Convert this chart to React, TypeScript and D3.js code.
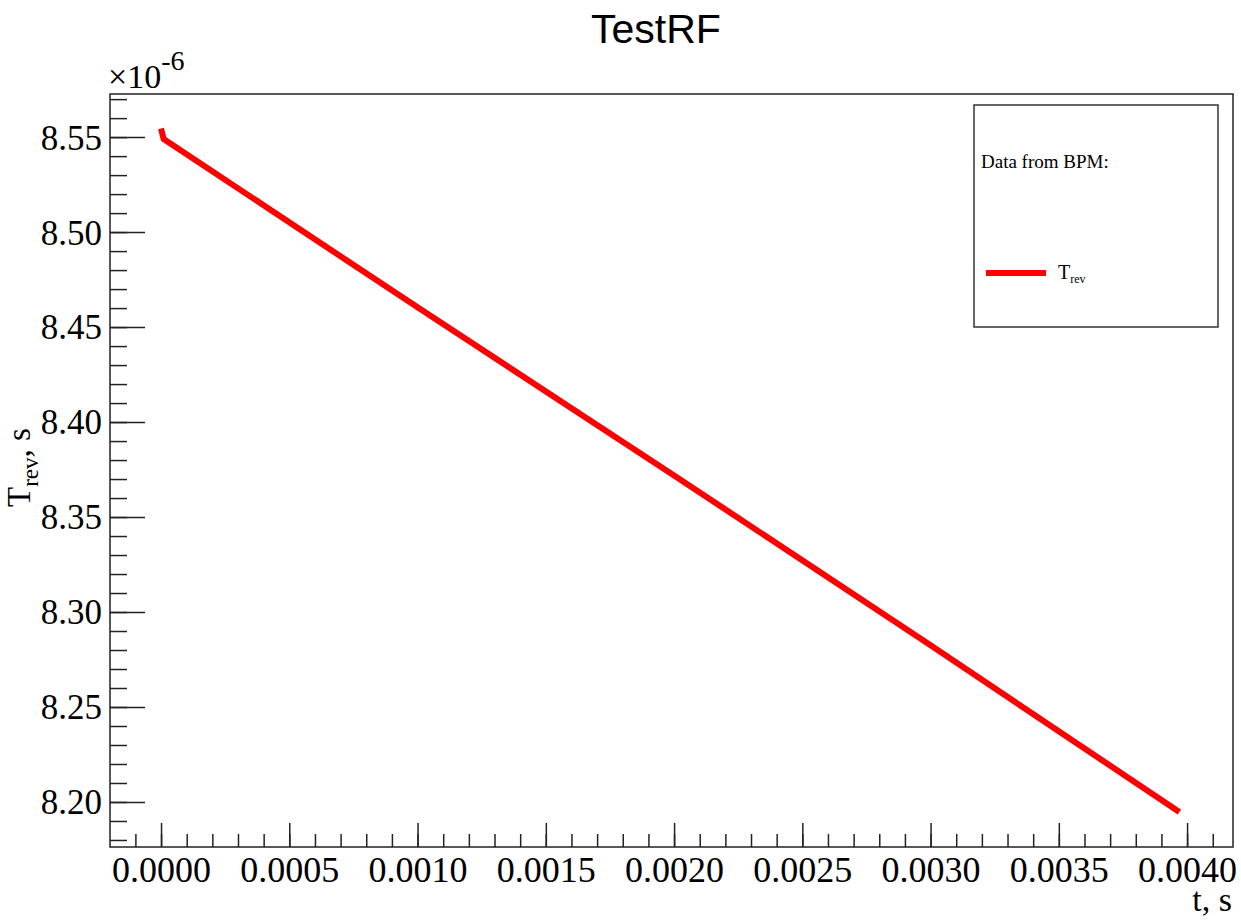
import * as d3 from 'd3';
import React, { useRef, useEffect } from 'react';

// revolution period from BPM
const timeS = [0, 0.00001, 0.001, 0.002, 0.003, 0.00397];
const trevE6 = [8.5545, 8.549, 8.4604, 8.3719, 8.2825, 8.1947];

const xTicks = [0, 0.0005, 0.001, 0.0015, 0.002, 0.0025, 0.003, 0.0035, 0.004];
const yTicks = [8.2, 8.25, 8.3, 8.35, 8.4, 8.45, 8.5, 8.55];

const W = 1241;
const H = 921;
const left = 110;
const right = 1233;
const top = 94;
const bottom = 847;

function App() {
  const svgRef = useRef<SVGSVGElement>(null);

  useEffect(() => {
    const svg = d3.select(svgRef.current);

    // 0.0000 sits at x=160, 0.0040 at x=1187
    const x = d3.scaleLinear().domain([-0.000199, 0.004179]).range([left, right]);
    const y = d3.scaleLinear().domain([8.1763, 8.5727]).range([bottom, top]);

    const xMinor = d3.range(-0.0001, 0.00415, 0.0001).filter((v) => x(v) > left + 1 && x(v) < right - 1);
    const yMinor = d3.range(8.17, 8.575, 0.01).filter((v) => y(v) < bottom - 1 && y(v) > top + 1);

    const serif = '"Liberation Serif", "Times New Roman", serif';

    svg
      .select<SVGGElement>('.x-minor')
      .attr('transform', `translate(0,${bottom})`)
      .call(d3.axisBottom(x).tickValues(xMinor).tickSize(-13).tickFormat(() => ''));
    svg
      .select<SVGGElement>('.x-major')
      .attr('transform', `translate(0,${bottom})`)
      .call(
        d3
          .axisBottom(x)
          .tickValues(xTicks)
          .tickSize(-24)
          .tickPadding(9)
          .tickFormat((d) => d3.format('.4f')(d as number))
      );

    svg
      .select<SVGGElement>('.y-minor')
      .attr('transform', `translate(${left},0)`)
      .call(d3.axisLeft(y).tickValues(yMinor).tickSize(-17).tickFormat(() => ''));
    svg
      .select<SVGGElement>('.y-major')
      .attr('transform', `translate(${left},0)`)
      .call(
        d3
          .axisLeft(y)
          .tickValues(yTicks)
          .tickSize(-35)
          .tickPadding(8)
          .tickFormat((d) => d3.format('.2f')(d as number))
      );

    svg.selectAll('.axis .domain').remove();
    svg
      .selectAll('.axis line')
      .attr('stroke', '#222')
      .attr('stroke-width', 1.5);
    svg
      .selectAll('.axis text')
      .attr('fill', '#000')
      .style('font-family', serif)
      .style('font-size', '35px');
    svg.selectAll('.x-major text').style('font-size', '36px');
    svg.selectAll('.y-major text').attr('dy', '0.34em');

    const line = d3
      .line<number>()
      .x((d, i) => x(timeS[i]))
      .y((d) => y(d));

    svg
      .select('.trace')
      .datum(trevE6)
      .attr('d', line)
      .attr('fill', 'none')
      .attr('stroke', '#ff0000')
      .attr('stroke-width', 6);
  }, []);

  const serif = '"Liberation Serif", "Times New Roman", serif';

  return (
    <svg
      ref={svgRef}
      width={W}
      height={H}
      style={{ position: 'absolute', left: 0, top: 0, background: '#fff' }}
    >
      <rect x={0} y={0} width={W} height={H} fill="#fff" />
      <text
        x={656}
        y={43}
        textAnchor="middle"
        fontFamily='"Liberation Sans", Arial, sans-serif'
        fontSize={41}
        fill="#000"
      >
        TestRF
      </text>

      <g className="axis x-minor" />
      <g className="axis x-major" />
      <g className="axis y-minor" />
      <g className="axis y-major" />

      <rect
        x={left}
        y={top}
        width={right - left}
        height={bottom - top}
        fill="none"
        stroke="#222"
        strokeWidth={1.5}
      />

      <path className="trace" strokeLinejoin="round" />

      <text x={108} y={88} fontFamily={serif} fontSize={34} fill="#000">
        ×10
        <tspan dy={-18} fontSize={28}>
          -6
        </tspan>
      </text>

      <text
        transform="translate(30,507) rotate(-90)"
        fontFamily={serif}
        fontSize={33}
        fill="#000"
      >
        T
        <tspan dy={8} fontSize={23}>
          rev
        </tspan>
        <tspan dy={-8}>, s</tspan>
      </text>

      <text x={1232} y={911} textAnchor="end" fontFamily={serif} fontSize={34} fill="#000">
        t, s
      </text>

      <rect x={974} y={105} width={244} height={222} fill="#fff" stroke="#333" strokeWidth={1.5} />
      <text x={981} y={168} fontFamily={serif} fontSize={19} fill="#000">
        Data from BPM:
      </text>
      <line x1={986} x2={1046} y1={273} y2={273} stroke="#ff0000" strokeWidth={6} />
      <text x={1058} y={279} fontFamily={serif} fontSize={20} fill="#000">
        T
        <tspan dy={4} fontSize={12}>
          rev
        </tspan>
      </text>
    </svg>
  );
}

export default App;
